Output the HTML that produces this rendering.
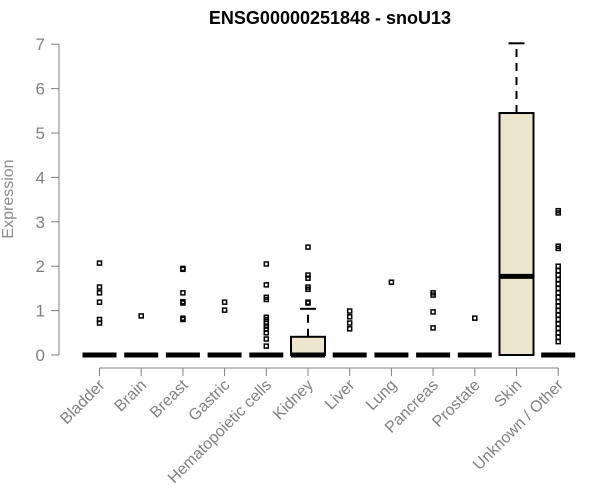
<!DOCTYPE html>
<html><head><meta charset="utf-8"><style>
html,body{margin:0;padding:0;background:#fff;}
svg{display:block;font-family:"Liberation Sans",Arial,sans-serif;}
</style></head><body>
<svg id="chart" width="600" height="500" viewBox="0 0 600 500">
<text x="330" y="24" text-anchor="middle" font-size="18" font-weight="bold">ENSG00000251848 - snoU13</text>
<text transform="translate(13,199) rotate(-90)" text-anchor="middle" font-size="16" fill="#8a8a8a">Expression</text>
<g id="yaxis"></g>
<g id="xaxis"></g>
<g id="plot"></g>
</svg>
<script>
const categories=["Bladder","Brain","Breast","Gastric","Hematopoietic cells","Kidney","Liver","Lung","Pancreas","Prostate","Skin","Unknown / Other"];
const q1=[0,0,0,0,0,0,0,0,0,0,0,0];
const medians=[0,0,0,0,0,0,0,0,0,0,1.77,0];
const q3=[0,0,0,0,0,0.41,0,0,0,0,5.45,0];
const whiskerHigh=[0,0,0,0,0,1.04,0,0,0,0,7.02,0];
const outliers=[
 [2.07,1.53,1.4,1.19,0.8,0.72],
 [0.88],
 [1.95,1.93,1.4,1.2,1.17,0.83,0.8],
 [1.19,1.01],
 [2.05,1.58,1.3,1.25,0.85,0.8,0.72,0.65,0.58,0.5,0.36,0.2],
 [2.43,1.8,1.73,1.53,1.48,1.19,1.17],
 [0.99,0.86,0.72,0.59],
 [1.64],
 [1.4,1.35,0.97,0.61],
 [0.83],
 [],
 [3.25,3.2,2.45,2.4,2.0,1.9,1.8,1.7,1.6,1.5,1.4,1.3,1.2,1.1,1.0,0.9,0.8,0.7,0.6,0.5,0.4,0.3]
];
const yTicks=[0,1,2,3,4,5,6,7];
const NS="http://www.w3.org/2000/svg";
const yScale=v=>355-v*44.4;
const xScale=i=>99.5+i*41.7;
function mk(tag,attrs,parent){const e=document.createElementNS(NS,tag);for(const k in attrs)e.setAttribute(k,attrs[k]);parent.appendChild(e);return e;}
const ya=document.getElementById('yaxis'),xa=document.getElementById('xaxis'),pl=document.getElementById('plot');
const axc="#808080",lab="#808080";
let l=mk('line',{x1:59,x2:59,y1:yScale(7),y2:yScale(0),stroke:axc},ya);


yTicks.forEach(t=>{
 let tk=mk('line',{x1:51,x2:59,y1:yScale(t),y2:yScale(t),stroke:axc},ya);
 
 
 let tx=mk('text',{x:45,y:yScale(t)+6,'text-anchor':'end','font-size':17,fill:lab},ya);
 tx.textContent=t;
 
 
});
let xl=mk('line',{x1:xScale(0),x2:xScale(categories.length-1),y1:368,y2:368,stroke:axc},xa);


categories.forEach((c,i)=>{
 const x=xScale(i);
 let tk=mk('line',{x1:x,x2:x,y1:368,y2:376,stroke:axc},xa);
 
 
 let tx=mk('text',{transform:`translate(${x+6},${386}) rotate(-45)`,'text-anchor':'end','font-size':16,fill:lab},xa);
 tx.textContent=c;
 
 
 const g=mk('g',{},pl);
 
 
 const w=34;
 if(whiskerHigh[i]>q3[i]){
  mk('line',{x1:x,x2:x,y1:yScale(q3[i]),y2:yScale(whiskerHigh[i]),stroke:'#000','stroke-width':2,'stroke-dasharray':'8,6'},g);
  mk('line',{x1:x-8,x2:x+8,y1:yScale(whiskerHigh[i]),y2:yScale(whiskerHigh[i]),stroke:'#000','stroke-width':2},g);
 }
 if(q3[i]>q1[i]){
  mk('rect',{x:x-w/2,y:yScale(q3[i]),width:w,height:yScale(q1[i])-yScale(q3[i]),fill:'#ece6cc',stroke:'#000','stroke-width':2},g);
 }
 mk('line',{x1:x-w/2,x2:x+w/2,y1:yScale(medians[i]),y2:yScale(medians[i]),stroke:'#000','stroke-width':5},g);
 outliers[i].forEach(v=>{
  let p=mk('rect',{x:x-2,y:yScale(v)-2,width:4,height:4,fill:'none',stroke:'#000','stroke-width':1.5},g);
  
  
 });
});
</script>
</body></html>
